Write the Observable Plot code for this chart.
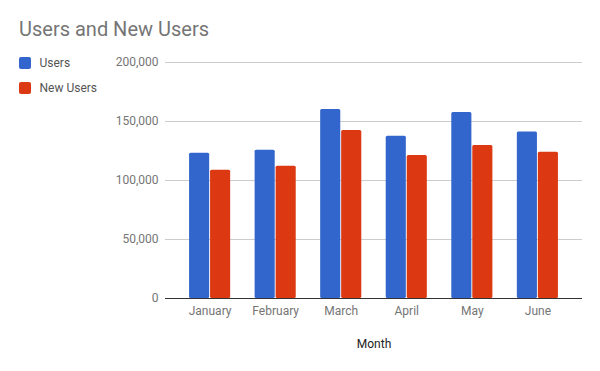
<!DOCTYPE html>
<html>
<head>
<meta charset="utf-8">
<script src="https://cdn.jsdelivr.net/npm/d3@7"></script>
<script src="https://cdn.jsdelivr.net/npm/@observablehq/plot@0.6"></script>
<style>
  html, body { margin: 0; padding: 0; background: #fff; }
  #wrap { position: relative; width: 600px; height: 371px; font-family: Roboto, "Noto Sans", sans-serif; }
  #title { position: absolute; left: 19px; top: 17px; font-size: 20px; color: #757575; line-height: 24px; white-space: nowrap; }
  .lg { position: absolute; left: 18.5px; font-size: 12px; color: #555; line-height: 12px; white-space: nowrap; }
  .lg span.sw { display: inline-block; width: 12px; height: 12px; border-radius: 2px; vertical-align: top; margin-right: 9px; }
  #chart { position: absolute; left: 0; top: 0; }
</style>
</head>
<body>
<div id="wrap">
  <div id="chart"></div>
  <div id="title">Users and New Users</div>
  <div id="legend"></div>
</div>
<script>
const months = ["January", "February", "March", "April", "May", "June"];
const users = [123000, 125700, 160200, 137500, 157600, 141000];
const newUsers = [108700, 112100, 142400, 121200, 129700, 124000];
const seriesNames = ["Users", "New Users"];
const seriesColors = ["#3366cc", "#dc3912"];
const yTicks = [0, 50000, 100000, 150000, 200000];

const usersData = months.map((m, i) => ({month: m, value: users[i]}));
const newData = months.map((m, i) => ({month: m, value: newUsers[i]}));

const fmt = d3.format(",");

const chart = Plot.plot({
  width: 600,
  height: 371,
  marginLeft: 165,
  marginRight: 18,
  marginTop: 62,
  marginBottom: 73,
  style: {fontFamily: "Roboto, 'Noto Sans', sans-serif", fontSize: "12px", background: "#fff"},
  x: {domain: months, paddingInner: 0.373, paddingOuter: 0.367, round: false, label: null, tickSize: 0, tickPadding: 8},
  y: {domain: [0, 200000], ticks: yTicks, tickFormat: fmt, label: null, tickSize: 0, tickPadding: 7},
  marks: [
    Plot.ruleY(yTicks.filter(d => d > 0), {stroke: "#cccccc", strokeWidth: 1}),
    Plot.barY(usersData, {x: "month", y: "value", fill: seriesColors[0], insetRight: 21, rx: 1.5}),
    Plot.barY(newData, {x: "month", y: "value", fill: seriesColors[1], insetLeft: 21, rx: 1.5}),
    Plot.ruleY([0], {stroke: "#333333", strokeWidth: 1}),
    Plot.text(["Month"], {frameAnchor: "bottom", dy: 49, fill: "#222", fontSize: 12})
  ]
});
chart.querySelectorAll("[aria-label='x-axis tick label'] text, [aria-label='y-axis tick label'] text").forEach(t => t.setAttribute("fill", "#757575"));
chart.querySelectorAll("[aria-label='x-axis tick label'], [aria-label='y-axis tick label']").forEach(g => g.setAttribute("fill", "#757575"));
document.getElementById("chart").appendChild(chart);

const legend = document.getElementById("legend");
seriesNames.forEach((name, i) => {
  const d = document.createElement("div");
  d.className = "lg";
  d.style.top = (56.5 + i * 25) + "px";
  d.innerHTML = `<span class="sw" style="background:${seriesColors[i]}"></span>${name}`;
  legend.appendChild(d);
});
</script>
</body>
</html>
